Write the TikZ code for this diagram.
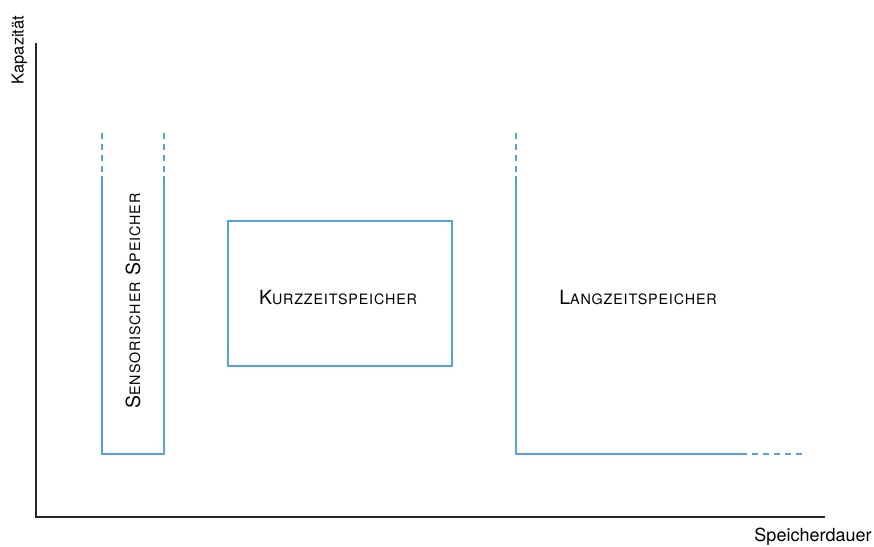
\documentclass[tikz,border=0pt]{standalone}
\usepackage{fontspec}
\setmainfont{TeX Gyre Heros}
\definecolor{lineblue}{RGB}{84,162,228}
\newcommand\capletter[1]{{\fontsize{19.5}{19.5}\selectfont #1}}
\newcommand\scletters[1]{{\fontsize{14.3}{14.3}\selectfont\addfontfeatures{LetterSpace=6}#1}}
\begin{document}
\begin{tikzpicture}[x=1pt,y=-1pt,
  axis/.style={line width=1.4pt,black!85},
  blue line/.style={line width=1.3pt,lineblue},
  blue dash/.style={line width=1.3pt,lineblue,dash pattern=on 6pt off 5pt},
  ylabelstyle/.style={font=\fontsize{16.5}{16.5}\selectfont,text=black,inner sep=0pt},
  xlabelstyle/.style={font=\fontsize{18}{18}\selectfont,text=black,inner sep=0pt},
  storelabel/.style={text=black,inner sep=0pt}]
\useasboundingbox (0,0) rectangle (874,546);
% axes
\coordinate (ytop) at (36,43);
\coordinate (origin) at (36,517);
\coordinate (xend) at (825,517);
\draw[axis] (ytop) -- (origin) -- (xend);
\node[ylabelstyle,rotate=90] (ylab) at (19.5,50) {Kapazität};
\node[xlabelstyle] (xlab) at (813,537) {Speicherdauer};
% sensory store
\coordinate (s1) at (102,133);
\coordinate (s2) at (102,176);
\coordinate (s3) at (102,454);
\coordinate (s4) at (164,454);
\coordinate (s5) at (164,176);
\coordinate (s6) at (164,133);
\draw[blue dash] (s1) -- (s2);
\draw[blue dash] (s6) -- (s5);
\draw[blue line] (s2) -- (s3) -- (s4) -- (s5);
\node[storelabel,rotate=90] (sens) at (133,301) {\capletter{S}\scletters{ENSORISCHER}\hspace{7pt}\capletter{S}\scletters{PEICHER}};
% short-term store
\node[draw=lineblue,line width=1.3pt,minimum width=224pt,minimum height=145pt,inner sep=0pt] (kz) at (340,293.5) {};
\node[storelabel] (kzl) at (338,298) {\capletter{K}\scletters{URZZEITSPEICHER}};
% long-term store
\coordinate (l1) at (516,133);
\coordinate (l2) at (516,176);
\coordinate (l3) at (516,454);
\coordinate (l4) at (741,454);
\coordinate (l5) at (803,454);
\draw[blue dash] (l1) -- (l2);
\draw[blue line] (l2) -- (l3) -- (l4);
\draw[blue dash] (l4) -- (l5);
\node[storelabel] (lzl) at (638,298) {\capletter{L}\scletters{ANGZEITSPEICHER}};
\end{tikzpicture}
\end{document}
